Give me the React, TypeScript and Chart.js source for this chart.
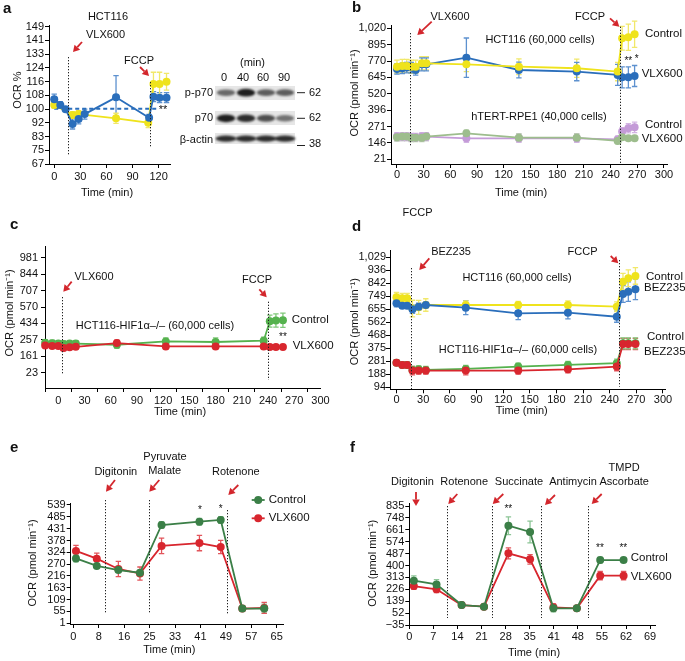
import React, { useEffect, useRef } from "react";
import { Chart, registerables } from "chart.js";
Chart.register(...registerables);

const FONT = '"Liberation Sans", Arial, Helvetica, sans-serif';

// ---------------- Panel a ----------------
const aBlueT = [0, 7, 13, 21, 28, 35, 71, 109, 114, 121, 129];
const aBlueV = [105.7, 102.2, 99.7, 90.9, 93.9, 96.8, 106.8, 94.6, 107.2, 106.6, 106.6];
const aBlueE = [3, 2, 1, 3, 3, 3, 13, 2, 3, 3, 3];
const aYellowT = [0, 21, 28, 71, 108, 114, 121, 129];
const aYellowV = [102.2, 96.3, 96.8, 94.3, 91.7, 114.8, 114.8, 116.1];
const aYellowE = [2, 2, 2, 3, 3, 7, 7, 5];
const aBaselineT = [0, 118];
const aBaselineV = [100, 100];
const aXTicks = [0, 30, 60, 90, 120];
const aXLabels = ["0", "30", "60", "90", "120"];
const aYTicks = [67, 75.2, 83.4, 91.6, 99.8, 108, 116.2, 124.4, 132.6, 140.8, 149];
const aYLabels = ["67", "75", "83", "92", "100", "108", "116", "124", "133", "141", "149"];
const aInjections = [16, 110];
const blotLanes = ["0", "40", "60", "90"];
const blotRows = ["p-p70", "p70", "β-actin"];
const blotMarkers = ["62", "62", "38"];
const blotIntensity = [
  [0.6, 0.95, 0.65, 0.65],
  [0.95, 0.88, 0.72, 0.55],
  [0.88, 0.88, 0.88, 0.88],
];

// ---------------- Panel b ----------------
const bT = [0, 6, 11, 16, 21, 28, 33, 78, 137, 202, 248, 253, 260, 267];
const bHctCtrl = [727, 733, 733, 727, 727, 753, 753, 745, 727, 715, 690, 944, 951, 974];
const bHctCtrlE = [50, 50, 50, 50, 50, 50, 50, 55, 60, 70, 70, 90, 100, 100];
const bHctVlx = [710, 715, 720, 720, 702, 745, 745, 796, 702, 690, 664, 646, 646, 656];
const bHctVlxE = [40, 40, 40, 40, 40, 50, 50, 150, 60, 70, 80, 80, 80, 80];
const bRpeCtrl = [194, 194, 194, 189, 189, 194, 194, 181, 181, 181, 173, 232, 257, 265];
const bRpeCtrlE = [30, 30, 30, 30, 30, 30, 30, 30, 30, 30, 25, 30, 35, 40];
const bRpeVlx = [189, 194, 194, 186, 186, 186, 194, 219, 186, 186, 161, 189, 181, 181];
const bRpeVlxE = [30, 30, 30, 30, 30, 30, 30, 25, 30, 30, 20, 20, 15, 15];
const bXTicks = [0, 30, 60, 90, 120, 150, 180, 210, 240, 270, 300];
const bXLabels = ["0", "30", "60", "90", "120", "150", "180", "210", "240", "270", "300"];
const bYTicks = [21, 146, 271, 396, 520, 645, 770, 895, 1020];
const bYLabels = ["21", "146", "271", "396", "520", "645", "770", "895", "1,020"];
const bInjections = [15, 251];

// ---------------- Panel c ----------------
const cT = [-15, -7, 0, 6, 13, 20, 67, 123, 180, 235, 242, 249, 257];
const cCtrl = [272, 268, 265, 262, 265, 265, 255, 283, 278, 289, 452, 458, 460];
const cCtrlE = [25, 25, 25, 25, 25, 25, 30, 30, 35, 30, 50, 55, 60];
const cVlx = [249, 245, 245, 227, 235, 238, 269, 241, 241, 241, 236, 236, 236];
const cVlxE = [15, 15, 15, 20, 15, 15, 25, 20, 20, 20, 15, 15, 15];
const cXTicks = [0, 30, 60, 90, 120, 150, 180, 210, 240, 270, 300];
const cXLabels = ["0", "30", "60", "90", "120", "150", "180", "210", "240", "270", "300"];
const cYTicks = [23, 159.9, 296.7, 433.6, 570.4, 707.3, 844.1, 981];
const cYLabels = ["23", "161", "257", "434", "570", "707", "844", "981"];
const cInjections = [4, 240];

// ---------------- Panel d ----------------
const dT = [0, 6.5, 12, 18, 25, 33, 78, 137, 193, 248, 255, 261, 269];
const dHctCtrl = [741, 734, 734, 660, 669, 686, 686, 686, 686, 674, 854, 878, 895];
const dHctCtrlE = [35, 35, 35, 60, 50, 45, 30, 25, 30, 35, 60, 60, 60];
const dHctBez = [698, 681, 681, 655, 674, 686, 667, 626, 631, 602, 765, 782, 799];
const dHctBezE = [25, 20, 20, 30, 25, 20, 50, 45, 45, 40, 60, 70, 75];
const dHifCtrl = [271, 255, 255, 219, 223, 219, 226, 243, 255, 267, 410, 410, 410];
const dHifCtrlE = [20, 20, 20, 25, 25, 25, 25, 25, 25, 30, 40, 40, 40];
const dHifBez = [271, 255, 255, 214, 214, 214, 214, 214, 223, 243, 406, 406, 406];
const dHifBezE = [20, 20, 20, 30, 25, 25, 30, 25, 25, 30, 40, 40, 40];
const dXTicks = [0, 30, 60, 90, 120, 150, 180, 210, 240, 270, 300];
const dXLabels = ["0", "30", "60", "90", "120", "150", "180", "210", "240", "270", "300"];
const dYTicks = [94, 188, 281, 375, 468, 562, 655, 749, 842, 936, 1029];
const dYLabels = ["94", "188", "281", "375", "468", "562", "655", "749", "842", "936", "1,029"];
const dInjections = [16, 251];

// ---------------- Panel e ----------------
const eT = [0.85, 7.5, 14.4, 21.3, 28.2, 40.3, 47.1, 54, 61];
const eCtrl = [296, 262, 243, 231, 448, 463, 471, 68, 68];
const eCtrlE = [15, 8, 10, 10, 15, 15, 15, 10, 20];
const eVlx = [330, 295, 248, 227, 353, 366, 348, 68, 71];
const eVlxE = [25, 25, 35, 30, 35, 35, 30, 10, 25];
const eXTicks = [0, 8.125, 16.25, 24.375, 32.5, 40.625, 48.75, 56.875, 65];
const eXLabels = ["0", "8", "16", "25", "33", "41", "49", "57", "65"];
const eYTicks = [1, 54.8, 108.6, 162.4, 216.2, 270, 323.8, 377.6, 431.4, 485.2, 539];
const eYLabels = ["1", "55", "109", "163", "216", "270", "324", "378", "431", "485", "539"];
const eInjections = [10.1, 24.2, 49];
const eInjectionNames = [["Digitonin"], ["Pyruvate", "Malate"], ["Rotenone"]];

// ---------------- Panel f ----------------
const fT = [1.3, 7.8, 15, 21.4, 28.4, 34.6, 41.3, 48, 54.7, 61.4];
const fCtrl = [289, 262, 111, 99, 691, 645, 87, 87, 440, 440];
const fCtrlE = [35, 35, 10, 8, 65, 80, 25, 10, 20, 15];
const fVlx = [250, 226, 111, 99, 489, 445, 94, 87, 326, 326];
const fVlxE = [25, 25, 8, 8, 40, 35, 25, 10, 30, 30];
const fXTicks = [0, 6.9, 13.8, 20.7, 27.6, 34.5, 41.4, 48.3, 55.2, 62.1, 69];
const fXLabels = ["0", "7", "14", "21", "28", "35", "41", "48", "55", "62", "69"];
const fYTicks = [-35, 52, 139, 226, 313, 400, 487, 574, 661, 748, 835];
const fYLabels = ["\u221235", "52", "139", "226", "313", "400", "487", "574", "661", "748", "835"];
const fInjections = [10.9, 23.6, 37.7, 51.3];

// ---------------- colours ----------------
const BLUE = "#2a6ebb";
const BLUE_ERR = "#5d91cf";
const YELLOW = "#efe31c";
const YELLOW_ERR = "#f1e86a";
const PURPLE = "#c49bd8";
const PURPLE_ERR = "#d3b5e3";
const SAGE = "#9dbd8d";
const SAGE_ERR = "#b6cfaa";
const GREEN = "#55b24e";
const GREEN_ERR = "#80c87a";
const RED = "#d8262e";
const RED_ERR = "#e2555b";
const DKGREEN = "#3b7f47";
const DKGREEN_ERR = "#8cc596";
const ARROW = "#d3262c";
const INK = "#111";

// ---------------- drawing helpers ----------------
function txt(ctx: CanvasRenderingContext2D, s: string, x: number, y: number, size = 11, align: CanvasTextAlign = "center", bold = false) {
  ctx.save();
  ctx.font = `${bold ? "bold " : ""}${size}px ${FONT}`;
  ctx.fillStyle = INK;
  ctx.textAlign = align;
  ctx.textBaseline = "middle";
  ctx.fillText(s, x, y);
  ctx.restore();
}
function arrow(ctx: CanvasRenderingContext2D, x1: number, y1: number, x2: number, y2: number) {
  const ang = Math.atan2(y2 - y1, x2 - x1);
  const hl = 6.5, hw = 3.8;
  const bx = x2 - hl * Math.cos(ang), by = y2 - hl * Math.sin(ang);
  ctx.save();
  ctx.strokeStyle = ARROW;
  ctx.fillStyle = ARROW;
  ctx.lineWidth = 1.8;
  ctx.beginPath();
  ctx.moveTo(x1, y1);
  ctx.lineTo(bx, by);
  ctx.stroke();
  ctx.beginPath();
  ctx.moveTo(x2, y2);
  ctx.lineTo(bx - hw * Math.sin(ang), by + hw * Math.cos(ang));
  ctx.lineTo(bx + hw * Math.sin(ang), by - hw * Math.cos(ang));
  ctx.closePath();
  ctx.fill();
  ctx.restore();
}
function dotted(ctx: CanvasRenderingContext2D, x: number, y1: number, y2: number) {
  ctx.save();
  ctx.strokeStyle = "#222";
  ctx.lineWidth = 1;
  ctx.setLineDash([1.3, 1.7]);
  const xx = Math.round(x) + 0.5;
  ctx.beginPath();
  ctx.moveTo(xx, y1);
  ctx.lineTo(xx, y2);
  ctx.stroke();
  ctx.restore();
}
function vtitle(ctx: CanvasRenderingContext2D, s: string, x: number, y: number, size = 11) {
  ctx.save();
  ctx.translate(x, y);
  ctx.rotate(-Math.PI / 2);
  txt(ctx, s, 0, 0, size);
  ctx.restore();
}
function legendEntry(ctx: CanvasRenderingContext2D, color: string, label: string, x: number, y: number) {
  ctx.save();
  ctx.strokeStyle = color;
  ctx.fillStyle = color;
  ctx.lineWidth = 1.8;
  ctx.beginPath();
  ctx.moveTo(x, y);
  ctx.lineTo(x + 13, y);
  ctx.stroke();
  ctx.beginPath();
  ctx.arc(x + 6.5, y, 4, 0, Math.PI * 2);
  ctx.fill();
  ctx.restore();
  txt(ctx, label, x + 17, y, 11.5, "left");
}

type H = { sx: (t: number) => number; sy: (v: number) => number };

function drawBlot(ctx: CanvasRenderingContext2D) {
  const lanesX = [226, 246, 266, 285];
  const rowY = [92.7, 118.3, 138.6];
  const boxes = [[215, 86, 80, 14], [215, 111, 80, 14], [215, 133, 80, 11]];
  ctx.save();
  ctx.fillStyle = "#e6e6e6";
  boxes.forEach((b) => ctx.fillRect(b[0], b[1], b[2], b[3]));
  ctx.filter = "blur(1.1px)";
  rowY.forEach((y, r) =>
    lanesX.forEach((x, l) => {
      const a = blotIntensity[r][l];
      ctx.fillStyle = `rgba(20,20,20,${a})`;
      ctx.beginPath();
      ctx.ellipse(x, y, r === 2 ? 10.5 : 9.2, r === 2 ? 3.1 : 2.3 + a * 1.7, 0, 0, Math.PI * 2);
      ctx.fill();
    })
  );
  ctx.restore();
  txt(ctx, "(min)", 252.5, 62.5, 11);
  const labX = [224, 243, 263, 284];
  blotLanes.forEach((s, i) => txt(ctx, s, labX[i], 78.3, 11));
  const labY = [92.7, 118.3, 140];
  blotRows.forEach((s, i) => txt(ctx, s, 213, labY[i], 11, "right"));
  const markY = [92.7, 118.3, 145.5];
  const markTY = [92.7, 118.3, 144];
  ctx.save();
  ctx.strokeStyle = "#222";
  ctx.lineWidth = 1;
  markY.forEach((y) => {
    ctx.beginPath();
    ctx.moveTo(297, y);
    ctx.lineTo(305, y);
    ctx.stroke();
  });
  ctx.restore();
  blotMarkers.forEach((s, i) => txt(ctx, s, 309, markTY[i], 11, "left"));
}

type Series = { x: number[]; y: number[]; err?: number[]; color: string; errColor?: string; dash?: number[]; radius?: number };
type PanelCfg = {
  id: string;
  box: { x: number; y: number; w: number; h: number };
  area: { l: number; t: number; r: number; b: number };
  xMin: number; xMax: number; xTicks: number[]; xLabels: string[]; xOffsetGrid?: boolean; xPad: number;
  yMin: number; yMax: number; yTicks: number[]; yLabels: string[]; yPad: number;
  series: Series[];
  xTitle: [string, number, number];
  yTitle: [string, number, number];
  letter: [string, number, number];
  draw: (ctx: CanvasRenderingContext2D, h: H) => void;
};

const PANELS: PanelCfg[] = [
  {
    id: "a",
    box: { x: 0, y: 0, w: 340, h: 205 },
    area: { l: 49, t: 25, r: 170, b: 164 },
    xMin: -6, xMax: 133, xTicks: aXTicks, xLabels: aXLabels, xPad: 2,
    yMin: 67, yMax: 150, yTicks: aYTicks, yLabels: aYLabels, yPad: 1,
    series: [
      { x: aBlueT, y: aBlueV, err: aBlueE, color: BLUE, errColor: BLUE_ERR },
      { x: aYellowT, y: aYellowV, err: aYellowE, color: YELLOW, errColor: YELLOW_ERR },
      { x: aBaselineT, y: aBaselineV, color: BLUE, dash: [4, 3], radius: 0 },
    ],
    xTitle: ["Time (min)", 107, 193],
    yTitle: ["OCR %", 18, 90],
    letter: ["a", 3, 9],
    draw: (ctx, h) => {
      txt(ctx, "HCT116", 108, 17);
      txt(ctx, "VLX600", 105.5, 35);
      arrow(ctx, 82, 42, 73, 52);
      dotted(ctx, h.sx(aInjections[0]), 57, 155);
      txt(ctx, "FCCP", 139, 61);
      arrow(ctx, 140, 67, 149, 76);
      dotted(ctx, h.sx(aInjections[1]), 82, 147);
      txt(ctx, "**", 163, 110, 11);
      drawBlot(ctx);
    },
  },
  {
    id: "b",
    box: { x: 340, y: 0, w: 345, h: 205 },
    area: { l: 391, t: 25, r: 667, b: 164 },
    xMin: -6.7, xMax: 303.4, xTicks: bXTicks, xLabels: bXLabels, xPad: 0,
    yMin: -15, yMax: 1045, yTicks: bYTicks, yLabels: bYLabels, yPad: 1,
    series: [
      { x: bT, y: bHctCtrl, err: bHctCtrlE, color: YELLOW, errColor: YELLOW_ERR },
      { x: bT, y: bHctVlx, err: bHctVlxE, color: BLUE, errColor: BLUE_ERR },
      { x: bT, y: bRpeVlx, err: bRpeVlxE, color: SAGE, errColor: SAGE_ERR },
      { x: bT, y: bRpeCtrl, err: bRpeCtrlE, color: PURPLE, errColor: PURPLE_ERR },
    ],
    xTitle: ["Time (min)", 521, 192.7],
    yTitle: ["OCR (pmol min\u207B\u00B9)", 355, 93],
    letter: ["b", 352, 8],
    draw: (ctx, h) => {
      txt(ctx, "VLX600", 450, 16.7);
      arrow(ctx, 431.7, 21.7, 417.3, 35);
      dotted(ctx, h.sx(bInjections[0]), 33, 147);
      txt(ctx, "FCCP", 590, 16.7);
      arrow(ctx, 610, 18.3, 619.3, 26.7);
      dotted(ctx, h.sx(bInjections[1]), 26.7, 163);
      txt(ctx, "HCT116 (60,000 cells)", 540, 40);
      txt(ctx, "hTERT-RPE1 (40,000 cells)", 539, 116.7);
      txt(ctx, "Control", 645, 34, 11.5, "left");
      txt(ctx, "VLX600", 641.7, 74, 11.5, "left");
      txt(ctx, "Control", 645, 125.3, 11.5, "left");
      txt(ctx, "VLX600", 641.7, 139.3, 11.5, "left");
      txt(ctx, "**", 628.3, 61, 10);
      txt(ctx, "*", 636.7, 59, 10);
    },
  },
  {
    id: "c",
    box: { x: 0, y: 205, w: 340, h: 215 },
    area: { l: 45, t: 246, r: 320.5, b: 388 },
    xMin: -15.2, xMax: 300, xTicks: cXTicks, xLabels: cXLabels, xOffsetGrid: true, xPad: 2,
    yMin: -106.7, yMax: 1081, yTicks: cYTicks, yLabels: cYLabels, yPad: 3,
    series: [
      { x: cT, y: cVlx, err: cVlxE, color: RED, errColor: RED_ERR },
      { x: cT, y: cCtrl, err: cCtrlE, color: GREEN, errColor: GREEN_ERR },
    ],
    xTitle: ["Time (min)", 180, 412],
    yTitle: ["OCR (pmol min\u207B\u00B9)", 10, 313],
    letter: ["c", 10, 225],
    draw: (ctx, h) => {
      txt(ctx, "VLX600", 94, 276.7);
      arrow(ctx, 71.7, 281.7, 63.3, 291.7);
      dotted(ctx, h.sx(cInjections[0]), 297, 375);
      txt(ctx, "FCCP", 257, 280);
      arrow(ctx, 259.3, 289.3, 266.7, 297.3);
      dotted(ctx, h.sx(cInjections[1]), 301.7, 380);
      txt(ctx, "HCT116-HIF1\u03B1\u2013/\u2013 (60,000 cells)", 155, 326);
      txt(ctx, "Control", 291.7, 320, 11.5, "left");
      txt(ctx, "VLX600", 292.7, 345.7, 11.5, "left");
      txt(ctx, "**", 283, 337, 10);
    },
  },
  {
    id: "d",
    box: { x: 340, y: 205, w: 345, h: 215 },
    area: { l: 390, t: 250, r: 665, b: 389.3 },
    xMin: -7.3, xMax: 302.3, xTicks: dXTicks, xLabels: dXLabels, xPad: 0,
    yMin: 79.6, yMax: 1081.5, yTicks: dYTicks, yLabels: dYLabels, yPad: 0,
    series: [
      { x: dT, y: dHctBez, err: dHctBezE, color: BLUE, errColor: BLUE_ERR },
      { x: dT, y: dHctCtrl, err: dHctCtrlE, color: YELLOW, errColor: YELLOW_ERR },
      { x: dT, y: dHifBez, err: dHifBezE, color: RED, errColor: RED_ERR },
      { x: dT, y: dHifCtrl, err: dHifCtrlE, color: GREEN, errColor: GREEN_ERR },
    ],
    xTitle: ["Time (min)", 521.7, 410.7],
    yTitle: ["OCR (pmol min\u207B\u00B9)", 355, 321.7],
    letter: ["d", 352, 227],
    draw: (ctx, h) => {
      txt(ctx, "FCCP", 417.5, 213.3);
      txt(ctx, "BEZ235", 451, 251.7);
      arrow(ctx, 429.3, 258.3, 419.3, 270);
      dotted(ctx, h.sx(dInjections[0]), 268, 389);
      txt(ctx, "FCCP", 582.5, 252.3);
      arrow(ctx, 610.7, 256, 618.3, 263.3);
      dotted(ctx, h.sx(dInjections[1]), 260, 386.7);
      txt(ctx, "HCT116 (60,000 cells)", 517, 278.3);
      txt(ctx, "HCT116-HIF1\u03B1\u2013/\u2013 (60,000 cells)", 518, 350);
      txt(ctx, "Control", 646, 276.7, 11.5, "left");
      txt(ctx, "BEZ235", 644, 288.3, 11.5, "left");
      txt(ctx, "Control", 647, 336.7, 11.5, "left");
      txt(ctx, "BEZ235", 644, 351.7, 11.5, "left");
    },
  },
  {
    id: "e",
    box: { x: 0, y: 420, w: 340, h: 241 },
    area: { l: 70.7, t: 503.3, r: 283, b: 624 },
    xMin: -0.83, xMax: 67, xTicks: eXTicks, xLabels: eXLabels, xPad: 2,
    yMin: -2.2, yMax: 546.7, yTicks: eYTicks, yLabels: eYLabels, yPad: 1,
    series: [
      { x: eT, y: eCtrl, err: eCtrlE, color: DKGREEN, errColor: DKGREEN_ERR },
      { x: eT, y: eVlx, err: eVlxE, color: RED, errColor: RED_ERR },
    ],
    xTitle: ["Time (min)", 169.3, 650],
    yTitle: ["OCR (pmol min\u207B\u00B9)", 33, 563],
    letter: ["e", 10, 448.3],
    draw: (ctx, h) => {
      txt(ctx, eInjectionNames[0][0], 115.8, 471.7);
      arrow(ctx, 115, 480, 106, 491.7);
      dotted(ctx, h.sx(eInjections[0]), 500, 613.3);
      txt(ctx, eInjectionNames[1][0], 165, 457.3);
      txt(ctx, eInjectionNames[1][1], 164.7, 470.7);
      arrow(ctx, 159.3, 480, 149.3, 491.7);
      dotted(ctx, h.sx(eInjections[1]), 500, 613.3);
      txt(ctx, eInjectionNames[2][0], 235.8, 471.7);
      arrow(ctx, 238.3, 485, 228.3, 495);
      dotted(ctx, h.sx(eInjections[2]), 510, 613.3);
      txt(ctx, "*", 200, 510, 10);
      txt(ctx, "*", 220.7, 509, 10);
      legendEntry(ctx, DKGREEN, "Control", 251.7, 500);
      legendEntry(ctx, RED, "VLX600", 251.7, 518.3);
    },
  },
  {
    id: "f",
    box: { x: 340, y: 420, w: 345, h: 241 },
    area: { l: 409.3, t: 503, r: 655, b: 625 },
    xMin: 0, xMax: 70.4, xTicks: fXTicks, xLabels: fXLabels, xPad: 1.7,
    yMin: -35, yMax: 857, yTicks: fYTicks, yLabels: fYLabels, yPad: 1,
    series: [
      { x: fT, y: fCtrl, err: fCtrlE, color: DKGREEN, errColor: DKGREEN_ERR },
      { x: fT, y: fVlx, err: fVlxE, color: RED, errColor: RED_ERR },
    ],
    xTitle: ["Time (min)", 534, 653.3],
    yTitle: ["OCR (pmol min\u207B\u00B9)", 373.3, 563.3],
    letter: ["f", 350, 448.3],
    draw: (ctx, h) => {
      txt(ctx, "Digitonin", 412.5, 481.7);
      arrow(ctx, 416, 492, 416, 506);
      txt(ctx, "Rotenone", 464.2, 481.7);
      arrow(ctx, 457.3, 494, 448.3, 504);
      dotted(ctx, h.sx(fInjections[0]), 506, 618);
      txt(ctx, "Succinate", 519, 481.7);
      arrow(ctx, 503.3, 494, 492.7, 504);
      dotted(ctx, h.sx(fInjections[1]), 506, 618);
      txt(ctx, "Antimycin", 573, 481.7);
      arrow(ctx, 555, 495, 545, 505);
      dotted(ctx, h.sx(fInjections[2]), 506, 618);
      txt(ctx, "TMPD", 624.2, 468.3);
      txt(ctx, "Ascorbate", 624.2, 481.7);
      arrow(ctx, 601.7, 494, 591.7, 504);
      dotted(ctx, h.sx(fInjections[3]), 506, 618);
      txt(ctx, "**", 508.3, 509, 10);
      txt(ctx, "**", 600, 548.5, 10);
      txt(ctx, "**", 623.3, 548.5, 10);
      txt(ctx, "Control", 630.7, 558.3, 11.5, "left");
      txt(ctx, "VLX600", 630.7, 576.7, 11.5, "left");
    },
  },
];

const errorBarPlugin = {
  id: "errorBars",
  beforeDatasetsDraw(chart: any) {
    const { ctx } = chart;
    const xs = chart.scales.x, ys = chart.scales.y;
    chart.data.datasets.forEach((ds: any) => {
      if (!ds.errors) return;
      ctx.save();
      ctx.strokeStyle = ds.errColor;
      ctx.lineWidth = 1.3;
      ds.data.forEach((p: any, i: number) => {
        const e = ds.errors[i];
        if (!e) return;
        const x = xs.getPixelForValue(p.x);
        const y1 = ys.getPixelForValue(p.y - e);
        const y2 = ys.getPixelForValue(p.y + e);
        ctx.beginPath();
        ctx.moveTo(x, y1);
        ctx.lineTo(x, y2);
        ctx.moveTo(x - 2.7, y1);
        ctx.lineTo(x + 2.7, y1);
        ctx.moveTo(x - 2.7, y2);
        ctx.lineTo(x + 2.7, y2);
        ctx.stroke();
      });
      ctx.restore();
    });
  },
};

function buildChart(canvas: HTMLCanvasElement, cfg: PanelCfg) {
  const { box, area } = cfg;
  const tickFont = { family: FONT, size: 11 };
  const datasets = cfg.series.map((s) => ({
    data: s.x.map((x, i) => ({ x, y: s.y[i] })),
    borderColor: s.color,
    backgroundColor: s.color,
    pointBackgroundColor: s.color,
    pointBorderWidth: 0,
    pointRadius: s.radius ?? 4,
    pointHoverRadius: s.radius ?? 4,
    borderWidth: 1.8,
    borderDash: s.dash || [],
    tension: 0,
    fill: false,
    clip: 8,
    errors: s.err,
    errColor: s.errColor,
  }));
  const annot = {
    id: "annot" + cfg.id,
    afterDraw(chart: any) {
      const ctx = chart.ctx as CanvasRenderingContext2D;
      ctx.save();
      ctx.translate(-box.x, -box.y);
      const h: H = {
        sx: (t) => box.x + chart.scales.x.getPixelForValue(t),
        sy: (v) => box.y + chart.scales.y.getPixelForValue(v),
      };
      txt(ctx, cfg.letter[0], cfg.letter[1], cfg.letter[2], 15, "left", true);
      txt(ctx, cfg.xTitle[0], cfg.xTitle[1], cfg.xTitle[2], 11);
      vtitle(ctx, cfg.yTitle[0], cfg.yTitle[1], cfg.yTitle[2], 11);
      cfg.draw(ctx, h);
      ctx.restore();
    },
  };
  return new Chart(canvas, {
    type: "line",
    data: { datasets } as any,
    options: {
      animation: false,
      responsive: false,
      devicePixelRatio: 1,
      events: [],
      layout: {
        padding: { left: 0, top: area.t - box.y, right: box.x + box.w - area.r, bottom: 0 },
      },
      plugins: { legend: { display: false }, tooltip: { enabled: false } },
      scales: {
        x: {
          type: "linear",
          min: cfg.xMin,
          max: cfg.xMax,
          afterBuildTicks: (s: any) => {
            s.ticks = cfg.xTicks.map((v) => ({ value: v }));
          },
          afterFit: (s: any) => {
            s.height = box.y + box.h - area.b;
          },
          ticks: {
            callback: (_v: any, i: number) => cfg.xLabels[i],
            font: tickFont,
            color: INK,
            padding: cfg.xPad,
            maxRotation: 0,
            autoSkip: false,
          },
          grid: { drawOnChartArea: false, drawTicks: true, tickLength: 4, color: "#000", offset: !!cfg.xOffsetGrid },
          border: { display: true, color: "#000", width: 1 },
        },
        y: {
          type: "linear",
          min: cfg.yMin,
          max: cfg.yMax,
          afterBuildTicks: (s: any) => {
            s.ticks = cfg.yTicks.map((v) => ({ value: v }));
          },
          afterFit: (s: any) => {
            s.width = area.l - box.x;
          },
          ticks: {
            callback: (_v: any, i: number) => cfg.yLabels[i],
            font: tickFont,
            color: INK,
            padding: cfg.yPad,
            autoSkip: false,
          },
          grid: { drawOnChartArea: false, drawTicks: true, tickLength: 4, color: "#000" },
          border: { display: true, color: "#000", width: 1 },
        },
      },
    } as any,
    plugins: [errorBarPlugin, annot],
  });
}

function Panel({ cfg }: { cfg: PanelCfg }) {
  const ref = useRef<HTMLCanvasElement>(null);
  useEffect(() => {
    const chart = buildChart(ref.current!, cfg);
    return () => chart.destroy();
  }, [cfg]);
  return (
    <canvas
      ref={ref}
      width={cfg.box.w}
      height={cfg.box.h}
      style={{ position: "absolute", left: cfg.box.x, top: cfg.box.y, width: cfg.box.w, height: cfg.box.h }}
    />
  );
}

export default function App() {
  useEffect(() => {
    document.body.style.margin = "0";
  }, []);
  return (
    <div style={{ position: "absolute", left: 0, top: 0, width: 685, height: 661, background: "#fff", overflow: "hidden" }}>
      {PANELS.map((p) => (
        <Panel key={p.id} cfg={p} />
      ))}
    </div>
  );
}
